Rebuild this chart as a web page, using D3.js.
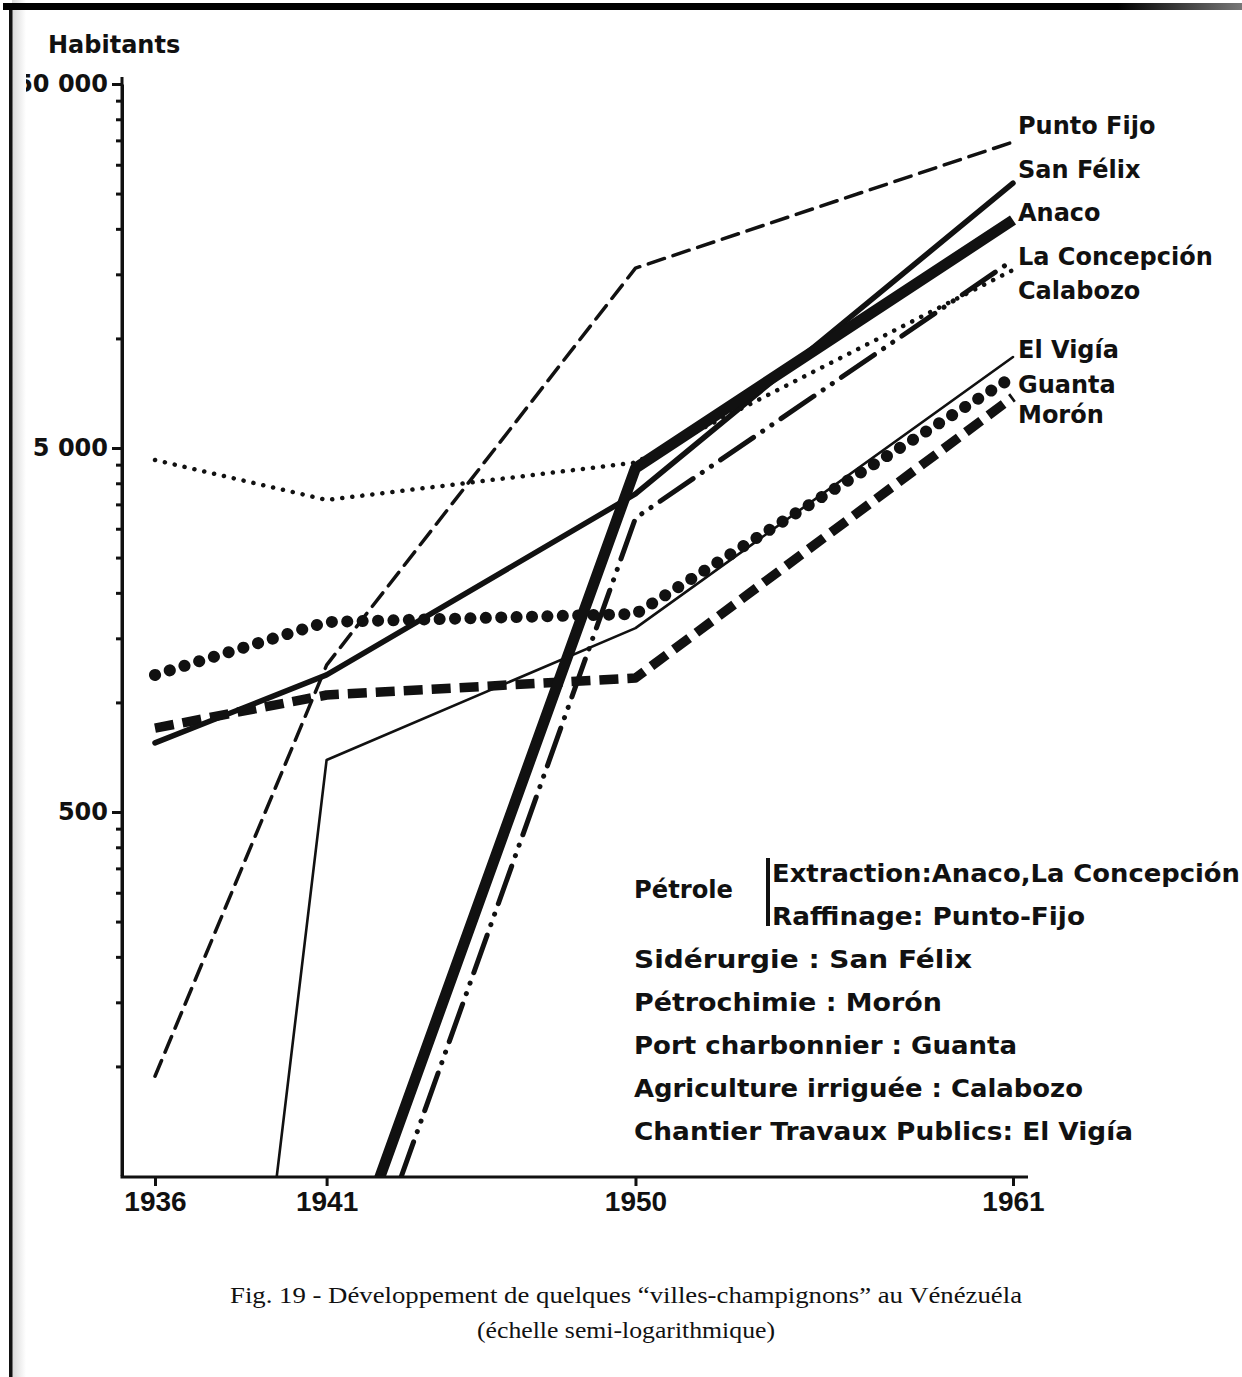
<!DOCTYPE html>
<html><head><meta charset="utf-8">
<script src="https://cdn.jsdelivr.net/npm/d3@7"></script>
<style>
html,body{margin:0;padding:0;background:#fff;}
svg{display:block;}
</style></head><body>
<svg id="chart" width="1242" height="1377"></svg>
<script>
// ---------- data ----------
const years = [1936, 1941, 1950, 1961];
const cities = ["Punto Fijo", "San Félix", "Anaco", "La Concepción", "Calabozo", "El Vigía", "Guanta", "Morón"];
const puntoFijo    = [94, 1266, 15600, 34650];
const sanFelix     = [774, 1190, 3740, 26700];
const anaco        = [null, 19.5, 4405, 21150];
const laConcepcion = [null, 13.2, 3210, 16420];
const calabozo     = [4634, 3600, 4560, 15420];
const elVigia      = [0.08, 695, 1600, 8890];
const guanta       = [1190, 1663, 1750, 7840];
const moron        = [850, 1048, 1167, 6900];

const majorTicks = [500, 5000, 50000];
const majorTickLabels = ["500", "5 000", "50 000"];
const minorTicks = [100, 150, 200, 250, 300, 350, 400, 450,
                    1000, 1500, 2000, 2500, 3000, 3500, 4000, 4500,
                    10000, 15000, 20000, 25000, 30000, 35000, 40000, 45000];
const yAxisTitle = "Habitants";
const legendHead = "Pétrole";
const legendPetrole = ["Extraction:Anaco,La Concepción", "Raffinage: Punto-Fijo"];
const legendOthers = ["Sidérurgie : San Félix", "Pétrochimie : Morón", "Port charbonnier : Guanta",
                      "Agriculture irriguée : Calabozo", "Chantier Travaux Publics: El Vigía"];
const caption = ["Fig. 19 - Développement de quelques \u201cvilles-champignons\u201d au Vénézuéla",
                 "(échelle semi-logarithmique)"];

const seriesValues = {
  "Punto Fijo": puntoFijo, "San Félix": sanFelix, "Anaco": anaco, "La Concepción": laConcepcion,
  "Calabozo": calabozo, "El Vigía": elVigia, "Guanta": guanta, "Morón": moron
};

// ---------- styles / layout ----------
const styles = {
  "Calabozo":      {w: 4.5, dash: "0.1,10", cap: "round"},
  "La Concepción": {w: 5,   dash: "40,11,0.1,11,0.1,11", cap: "round"},
  "Guanta":        {w: 12,  dash: "0.1,15.3", cap: "round"},
  "Morón":         {w: 9.5, dash: "19,9", cap: "butt"},
  "El Vigía":      {w: 2.6, dash: null, cap: "round"},
  "Punto Fijo":    {w: 3.5, dash: "17,9", cap: "round"},
  "San Félix":     {w: 5.5, dash: null, cap: "round"},
  "Anaco":         {w: 11,  dash: null, cap: "butt"}
};
const drawOrder = ["Calabozo", "La Concepción", "Guanta", "Morón", "El Vigía", "Punto Fijo", "San Félix", "Anaco"];
const labelBaselines = {"Punto Fijo": 134, "San Félix": 178, "Anaco": 221, "La Concepción": 265,
                        "Calabozo": 299, "El Vigía": 358, "Guanta": 393, "Morón": 423};

const BOLD = "'DejaVu Sans', sans-serif";
const svg = d3.select("#chart");
svg.append("rect").attr("width", 1242).attr("height", 1377).attr("fill", "#fff");

const axisX = 122;
const x = d3.scaleLinear().domain([1936, 1961]).range([155, 1013]);
const y = d3.scaleLog().domain([50, 50000]).range([1176, 84]);

// clip
svg.append("defs").append("clipPath").attr("id", "plot")
  .append("rect").attr("x", axisX).attr("y", 0).attr("width", 1040 - axisX).attr("height", y(50));

// lines
const line = d3.line().defined(d => d.v != null).x(d => x(d.year)).y(d => y(d.v));
const gLines = svg.append("g").attr("clip-path", "url(#plot)");
drawOrder.forEach(name => {
  const s = styles[name];
  const data = years.map((yr, i) => ({year: yr, v: seriesValues[name][i]}));
  gLines.append("path").datum(data)
    .attr("d", line)
    .attr("fill", "none")
    .attr("stroke", "#111")
    .attr("stroke-width", s.w)
    .attr("stroke-linecap", s.cap)
    .attr("stroke-linejoin", "round")
    .attr("stroke-dasharray", s.dash);
});

// y axis
const yAxisMajor = d3.axisLeft(y).tickValues(majorTicks).tickSize(10).tickSizeOuter(0).tickPadding(4)
  .tickFormat(d => majorTickLabels[majorTicks.indexOf(d)]);
const gy = svg.append("g").attr("transform", `translate(${axisX},0)`).call(yAxisMajor);
gy.select(".domain").attr("stroke", "#111").attr("stroke-width", 3);
gy.selectAll(".tick line").attr("stroke", "#111").attr("stroke-width", 3);
gy.selectAll(".tick text").attr("font-family", BOLD).attr("font-weight", "bold").attr("font-size", 24).attr("fill", "#111");
const gyMinor = svg.append("g").attr("transform", `translate(${axisX},0)`)
  .call(d3.axisLeft(y).tickValues(minorTicks).tickSize(6).tickSizeOuter(0).tickFormat(""));
gyMinor.select(".domain").remove();
gyMinor.selectAll(".tick line").attr("stroke", "#111").attr("stroke-width", 3);
// axis extension above top tick
svg.append("line").attr("x1", axisX).attr("x2", axisX).attr("y1", y(50000) - 7).attr("y2", y(50))
  .attr("stroke", "#111").attr("stroke-width", 3);

// x axis
const gx = svg.append("g").attr("transform", `translate(0,${y(50) + 1})`)
  .call(d3.axisBottom(x).tickValues(years).tickSize(9).tickSizeOuter(0).tickPadding(5).tickFormat(d3.format("d")));
gx.select(".domain").remove();
gx.selectAll(".tick line").attr("stroke", "#111").attr("stroke-width", 3);
gx.selectAll(".tick text").attr("font-family", "'Liberation Sans', Arial, sans-serif").attr("font-weight", "bold")
  .attr("font-size", 28).attr("fill", "#111");
svg.append("line").attr("x1", axisX - 1.5).attr("x2", x(1961) + 15).attr("y1", y(50) + 1).attr("y2", y(50) + 1)
  .attr("stroke", "#111").attr("stroke-width", 3);

// y axis title
svg.append("text").attr("x", 48).attr("y", 53).text(yAxisTitle)
  .attr("font-family", BOLD).attr("font-weight", "bold").attr("font-size", 24).attr("fill", "#111");

// series labels
cities.forEach(name => {
  svg.append("text").attr("x", 1018).attr("y", labelBaselines[name]).text(name)
    .attr("font-family", BOLD).attr("font-weight", "bold").attr("font-size", 24).attr("fill", "#111");
});

// legend block
const legendFont = t => t.attr("font-family", BOLD).attr("font-weight", "bold").attr("font-size", 24).attr("fill", "#111")
  .attr("lengthAdjust", "spacingAndGlyphs");
legendFont(svg.append("text").attr("x", 634).attr("y", 898).attr("textLength", 99).text(legendHead));
svg.append("line").attr("x1", 768).attr("x2", 768).attr("y1", 858).attr("y2", 926)
  .attr("stroke", "#111").attr("stroke-width", 4);
const petWidths = [468, 313];
legendPetrole.forEach((t, i) => {
  legendFont(svg.append("text").attr("x", 772).attr("y", 882 + i * 43).attr("textLength", petWidths[i]).text(t));
});
const othWidths = [338, 308, 383, 449, 499];
legendOthers.forEach((t, i) => {
  legendFont(svg.append("text").attr("x", 634).attr("y", 968 + i * 43).attr("textLength", othWidths[i]).text(t));
});

// caption
const capFont = t => t.attr("font-family", "'Liberation Serif', 'Times New Roman', serif").attr("font-size", 23)
  .attr("fill", "#111").attr("lengthAdjust", "spacingAndGlyphs");
capFont(svg.append("text").attr("x", 230).attr("y", 1303).attr("textLength", 792).text(caption[0]));
capFont(svg.append("text").attr("x", 477).attr("y", 1338).attr("textLength", 298).text(caption[1]));

// page edge (scan border)
const defs = svg.select("defs");
const lg = defs.append("linearGradient").attr("id", "edge").attr("x1", 0).attr("x2", 1);
lg.append("stop").attr("offset", 0).attr("stop-color", "#d8d8d8");
lg.append("stop").attr("offset", 1).attr("stop-color", "#fff");
svg.append("rect").attr("x", 12).attr("y", 0).attr("width", 14).attr("height", 1377).attr("fill", "url(#edge)");
svg.append("rect").attr("x", 9).attr("y", 4).attr("width", 3.5).attr("height", 1373).attr("fill", "#111");
const tg = defs.append("linearGradient").attr("id", "topbar").attr("x1", 0).attr("x2", 1);
tg.append("stop").attr("offset", 0).attr("stop-color", "#000");
tg.append("stop").attr("offset", 0.9).attr("stop-color", "#000");
tg.append("stop").attr("offset", 1).attr("stop-color", "#777");
svg.append("rect").attr("x", 3).attr("y", 3).attr("width", 1239).attr("height", 7).attr("fill", "url(#topbar)");
</script>
</body></html>
